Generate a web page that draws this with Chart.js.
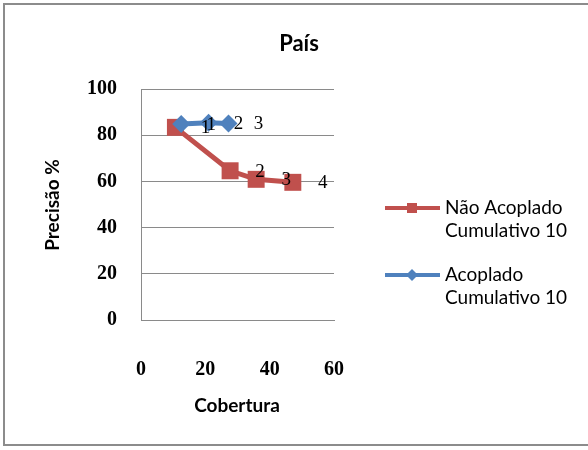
<!DOCTYPE html>
<html>
<head>
<meta charset="utf-8">
<script src="https://cdn.jsdelivr.net/npm/chart.js@4/dist/chart.umd.min.js"></script>
<style>
  html, body { margin: 0; padding: 0; background: #fff; }
  #wrap { position: relative; width: 588px; height: 450px; overflow: hidden; }
  #frame { position: absolute; left: 3px; top: 3px; width: 600px; height: 443px; border: 2px solid #8c8c8c; box-sizing: border-box; }
  canvas { position: absolute; left: 0; top: 0; }
</style>
</head>
<body>
<div id="wrap">
  <div id="frame"></div>
  <canvas id="chart" width="588" height="450"></canvas>
</div>
<script>
// values
const naoX = [10.7, 27.7, 35.8, 47.2];
const naoY = [83.4, 64.6, 60.9, 59.6];
const naoLabels = ["1", "2", "3", "4"];

const acopX = [12.5, 21.0, 27.2];
const acopY = [84.8, 85.4, 85.1];
const acopLabels = ["1", "2", "3"];

const xTicks = [0, 20, 40, 60];
const yTicks = [0, 20, 40, 60, 80, 100];

const RED = "#C0504D";
const BLUE = "#4F81BD";
const GRID = "#8a8a8a";

function pts(xs, ys){
  return xs.map((x, i) => ({ x: x, y: ys[i] }));
}

// title, axis titles, point labels and the two-line legend
const decor = {
  id: "decor",
  afterDatasetsDraw(chart){
    const ctx = chart.ctx;
    ctx.save();
    ctx.fillStyle = "#000";
    ctx.textBaseline = "middle";
    ctx.textAlign = "center";

    // point labels, to the right of each marker
    ctx.font = "19px 'Liberation Serif'";
    chart.data.datasets.forEach((ds, di) => {
      chart.getDatasetMeta(di).data.forEach((el, i) => {
        ctx.fillText(ds.pointText[i], el.x + 30, el.y + 1);
      });
    });

    ctx.font = "bold 22px Lato";
    ctx.fillText("País", 299, 44);

    ctx.font = "bold 19px Lato";
    ctx.fillText("Cobertura", 237, 406);
    ctx.save();
    ctx.translate(53, 205);
    ctx.rotate(-Math.PI / 2);
    ctx.fillText("Precisão %", 0, 0);
    ctx.restore();

    // legend
    const items = [
      { ds: chart.data.datasets[1], y: 208 },
      { ds: chart.data.datasets[0], y: 275 }
    ];
    ctx.font = "19px Lato";
    ctx.textAlign = "left";
    items.forEach(it => {
      ctx.strokeStyle = it.ds.borderColor;
      ctx.lineWidth = 4;
      ctx.beginPath();
      ctx.moveTo(385, it.y);
      ctx.lineTo(440, it.y);
      ctx.stroke();
      ctx.fillStyle = it.ds.borderColor;
      if (it.ds.pointStyle === "rect") {
        ctx.fillRect(407, it.y - 5, 10, 10);
      } else {
        ctx.beginPath();
        ctx.moveTo(412, it.y - 6);
        ctx.lineTo(418, it.y);
        ctx.lineTo(412, it.y + 6);
        ctx.lineTo(406, it.y);
        ctx.closePath();
        ctx.fill();
      }
      ctx.fillStyle = "#000";
      it.ds.label.forEach((line, k) => {
        ctx.fillText(line, 445, it.y + k * 23);
      });
    });
    ctx.restore();
  }
};

new Chart(document.getElementById("chart"), {
  type: "scatter",
  data: {
    datasets: [
      {
        label: ["Acoplado", "Cumulativo 10"],
        data: pts(acopX, acopY),
        pointText: acopLabels,
        showLine: true,
        borderColor: BLUE,
        backgroundColor: BLUE,
        borderWidth: 5,
        pointStyle: "rectRot",
        pointRadius: 9,
        pointBorderWidth: 0
      },
      {
        label: ["Não Acoplado", "Cumulativo 10"],
        data: pts(naoX, naoY),
        pointText: naoLabels,
        showLine: true,
        borderColor: RED,
        backgroundColor: RED,
        borderWidth: 5,
        pointStyle: "rect",
        pointRadius: 12,
        pointBorderWidth: 0
      }
    ]
  },
  options: {
    responsive: false,
    animation: false,
    events: [],
    layout: { padding: { left: 0, top: 89, right: 254, bottom: 0 } },
    plugins: { legend: { display: false }, tooltip: { enabled: false } },
    scales: {
      x: {
        type: "linear",
        min: 0, max: 60,
        afterBuildTicks(s){ s.ticks = xTicks.map(v => ({ value: v })); },
        afterFit(s){ s.height = 130; },
        grid: { display: false },
        border: { display: true, color: GRID, width: 1 },
        ticks: { padding: 30, color: "#000", font: { family: "'Liberation Serif'", size: 20, weight: "bold" } }
      },
      y: {
        min: 0, max: 100,
        afterBuildTicks(s){ s.ticks = yTicks.map(v => ({ value: v })); },
        afterFit(s){ s.width = 141; },
        grid: { color: GRID, drawTicks: false, lineWidth: 1 },
        border: { display: true, color: GRID, width: 1 },
        ticks: { padding: 24, color: "#000", font: { family: "'Liberation Serif'", size: 20, weight: "bold" } }
      }
    }
  },
  plugins: [decor]
});
</script>
</body>
</html>
